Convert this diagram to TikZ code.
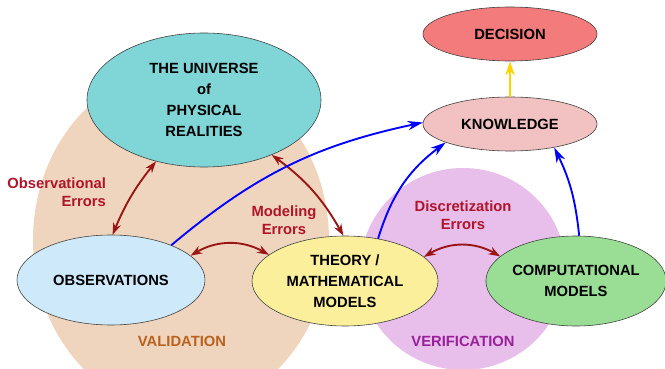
\documentclass[tikz,border=0pt]{standalone}
\usepackage{fontspec}
\setmainfont{Liberation Sans}
\usetikzlibrary{shapes.geometric,arrows.meta}

\definecolor{valfill}{HTML}{EFD5BD}
\definecolor{verfill}{HTML}{E8BEEA}
\definecolor{univfill}{HTML}{80D5D6}
\definecolor{obsfill}{HTML}{CDE9FA}
\definecolor{theofill}{HTML}{FBEF9C}
\definecolor{compfill}{HTML}{9ADE96}
\definecolor{decfill}{HTML}{F47B7B}
\definecolor{knowfill}{HTML}{F2C1C1}
\definecolor{errred}{HTML}{9A1515}
\definecolor{errtext}{HTML}{B0142A}
\definecolor{valtext}{HTML}{B9621F}
\definecolor{vertext}{HTML}{98209A}
\definecolor{decarrow}{HTML}{FFD200}

\begin{document}
\begin{tikzpicture}[x=0.03cm,y=-0.03cm,
    bubble/.style={ellipse,draw=black!75,line width=0.5pt,inner sep=0pt,align=center,
        font=\bfseries\fontsize{12.6}{18}\selectfont},
    errlabel/.style={text=errtext,align=center,font=\bfseries\fontsize{12.6}{15.5}\selectfont},
    errarrow/.style={{Stealth[length=10pt,width=7pt]}-{Stealth[length=10pt,width=7pt]},
        draw=errred,line width=1.6pt},
    kwarrow/.style={-{Stealth[length=13pt,width=8pt]},draw=blue,line width=1.6pt}]
\useasboundingbox (0,0) rectangle (665,369);

% Validation and verification regions
\fill[valfill] (181,240) ellipse [x radius=4.44cm, y radius=5.13cm];
\fill[verfill] (463,269) ellipse [x radius=3.08cm, y radius=3.03cm];
\node (vallabel) at (182,341) [text=valtext,font=\bfseries\fontsize{12.6}{15}\selectfont] {VALIDATION};
\node (verlabel) at (463,341) [text=vertext,font=\bfseries\fontsize{12.6}{15}\selectfont] {VERIFICATION};

% Bubbles
\node (univ) at (204,100) [bubble,fill=univfill,minimum width=7.02cm,minimum height=4.02cm]
    {THE UNIVERSE\\of\\PHYSICAL\\REALITIES};
\node (obs) at (111,280) [bubble,fill=obsfill,minimum width=5.64cm,minimum height=2.7cm] {OBSERVATIONS};
\node (theo) at (345,281) [bubble,fill=theofill,minimum width=5.58cm,minimum height=2.7cm]
    {THEORY /\\MATHEMATICAL\\MODELS};
\node (comp) at (576,281) [bubble,fill=compfill,minimum width=5.4cm,minimum height=2.7cm]
    {COMPUTATIONAL\\MODELS};
\node (know) at (510,124) [bubble,fill=knowfill,minimum width=5.22cm,minimum height=1.62cm] {KNOWLEDGE};
\node (dec) at (510,34) [bubble,fill=decfill,minimum width=5.22cm,minimum height=1.62cm] {DECISION};

% Error labels
\node (obserr) at (110,192) [errlabel,anchor=east,align=right] {Observational\\Errors};
\node (moderr) at (284,220) [errlabel] {Modeling\\Errors};
\node (discerr) at (463,215) [errlabel] {Discretization\\Errors};

% Error arrows
\draw[errarrow] (univ.232) to[bend right=8] (obs.88);
\draw[errarrow] (univ.321) to[bend left=12] (theo.92);
\draw[errarrow] (obs.17) to[bend left=30] (theo.161);
\draw[errarrow] (theo.17) to[bend left=30] (comp.162);

% Arrows to knowledge
\draw[kwarrow] (obs.30) to[bend left=14] (know.179);
\draw[kwarrow] (theo.52) to[bend left=18] (know.196);
\draw[kwarrow] (comp.86) to[bend right=10] (know.332);
\draw[-{Stealth[length=12pt,width=8pt]},draw=decarrow,line width=1.6pt] (know.north) -- (dec.south);
\end{tikzpicture}
\end{document}
